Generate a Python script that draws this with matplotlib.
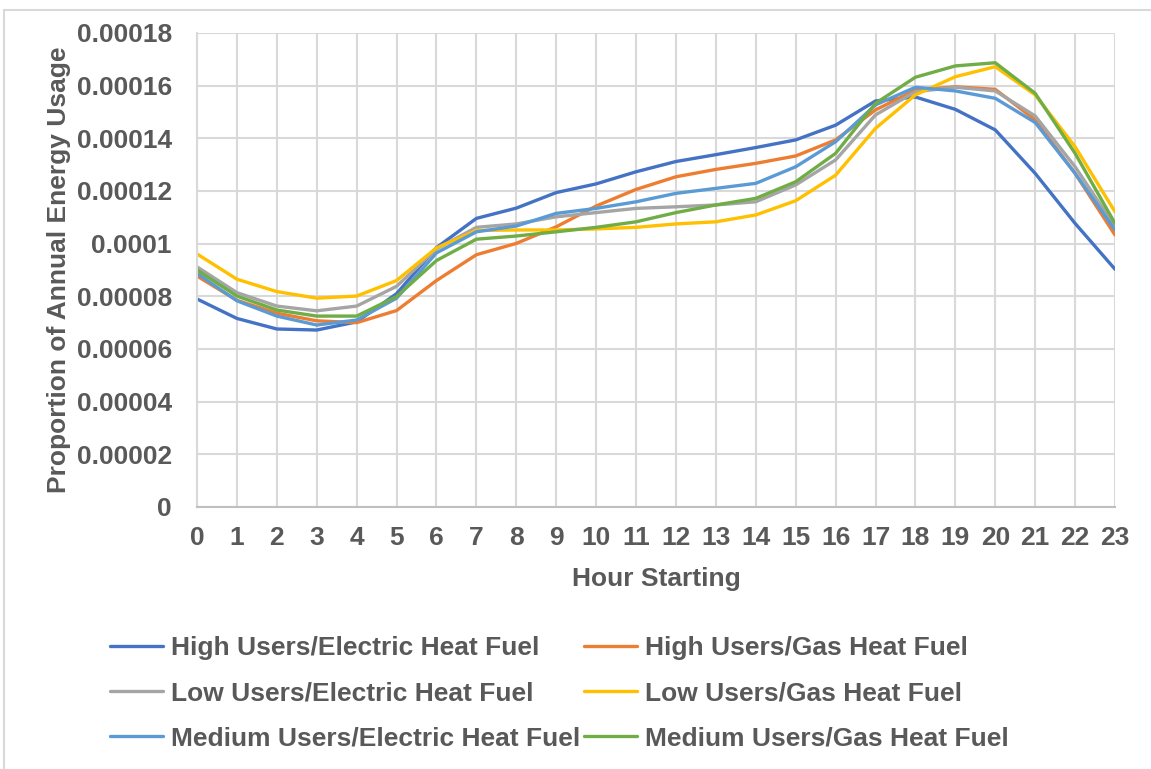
import numpy as np
import matplotlib.pyplot as plt
from matplotlib.patches import Rectangle

plt.rcParams['font.family'] = ['Liberation Sans', 'DejaVu Sans']

hours = list(range(24))

high_electric = [0.0000790, 0.0000716, 0.0000676, 0.0000672, 0.0000703, 0.0000810,
                 0.0000985, 0.0001096, 0.0001135, 0.0001194, 0.0001227, 0.0001273,
                 0.0001312, 0.0001338, 0.0001365, 0.0001394, 0.0001450, 0.0001542,
                 0.0001557, 0.0001510, 0.0001432, 0.0001267, 0.0001077, 0.0000903]
high_gas = [0.0000877, 0.0000785, 0.0000736, 0.0000707, 0.0000700, 0.0000746,
            0.0000860, 0.0000958, 0.0001001, 0.0001064, 0.0001143, 0.0001206,
            0.0001254, 0.0001282, 0.0001305, 0.0001333, 0.0001394, 0.0001508,
            0.0001583, 0.0001596, 0.0001586, 0.0001470, 0.0001267, 0.0001033]
low_electric = [0.0000912, 0.0000814, 0.0000763, 0.0000745, 0.0000763, 0.0000838,
                0.0000980, 0.0001062, 0.0001075, 0.0001102, 0.0001118, 0.0001134,
                0.0001140, 0.0001147, 0.0001159, 0.0001223, 0.0001318, 0.0001489,
                0.0001577, 0.0001594, 0.0001580, 0.0001485, 0.0001292, 0.0001065]
low_gas = [0.0000961, 0.0000865, 0.0000818, 0.0000793, 0.0000801, 0.0000860,
           0.0000984, 0.0001050, 0.0001052, 0.0001052, 0.0001056, 0.0001062,
           0.0001075, 0.0001083, 0.0001109, 0.0001163, 0.0001260, 0.0001438,
           0.0001565, 0.0001634, 0.0001672, 0.0001565, 0.0001368, 0.0001121]
medium_electric = [0.0000887, 0.0000783, 0.0000725, 0.0000691, 0.0000710, 0.0000793,
                   0.0000965, 0.0001045, 0.0001067, 0.0001115, 0.0001134, 0.0001159,
                   0.0001191, 0.0001210, 0.0001229, 0.0001292, 0.0001387, 0.0001527,
                   0.0001594, 0.0001580, 0.0001552, 0.0001460, 0.0001267, 0.0001052]
medium_gas = [0.0000900, 0.0000801, 0.0000748, 0.0000725, 0.0000725, 0.0000799,
              0.0000936, 0.0001017, 0.0001029, 0.0001045, 0.0001062, 0.0001083,
              0.0001118, 0.0001147, 0.0001172, 0.0001235, 0.0001343, 0.0001533,
              0.0001632, 0.0001675, 0.0001687, 0.0001571, 0.0001343, 0.0001077]

series = [
    ("High Users/Electric Heat Fuel", high_electric, "#4472C4"),
    ("High Users/Gas Heat Fuel", high_gas, "#ED7D31"),
    ("Low Users/Electric Heat Fuel", low_electric, "#A5A5A5"),
    ("Low Users/Gas Heat Fuel", low_gas, "#FFC000"),
    ("Medium Users/Electric Heat Fuel", medium_electric, "#5B9BD5"),
    ("Medium Users/Gas Heat Fuel", medium_gas, "#70AD47"),
]

y_ticks = [0, 0.00002, 0.00004, 0.00006, 0.00008, 0.0001, 0.00012, 0.00014, 0.00016, 0.00018]
y_labels = ["0", "0.00002", "0.00004", "0.00006", "0.00008", "0.0001",
            "0.00012", "0.00014", "0.00016", "0.00018"]

text_color = "#595959"
grid_color = "#D9D9D9"
fs = 19

fig = plt.figure(figsize=(11.51, 7.69), dpi=100)
fig.patches.append(Rectangle((4 / 1151, -0.01), 1.1, 1 - 10 / 769 + 0.01,
                             transform=fig.transFigure, fill=False,
                             edgecolor="#D9D9D9", linewidth=1.5))

ax = fig.add_axes([197 / 1151, 1 - 507 / 769, (1115 - 197) / 1151, (507 - 33) / 769])

lines = []
for name, vals, color in series:
    ln, = ax.plot(hours, vals, color=color, linewidth=2.4, label=name, solid_capstyle='round')
    lines.append(ln)

ax.set_xlim(0, 23)
ax.set_ylim(0, 0.00018)
ax.set_xticks(hours)
ax.set_xticklabels([str(h) for h in hours])
ax.set_yticks(y_ticks)
ax.set_yticklabels(y_labels)
ax.grid(True, color=grid_color, linewidth=1.5)
ax.set_axisbelow(True)

for side in ["top", "right"]:
    ax.spines[side].set_visible(False)
ax.spines["left"].set_color(grid_color)
ax.spines["left"].set_linewidth(1.5)
ax.spines["bottom"].set_color("#BFBFBF")
ax.spines["bottom"].set_linewidth(1.5)

ax.tick_params(axis='both', length=0, labelsize=fs, labelcolor=text_color)
ax.tick_params(axis='x', pad=14)
ax.tick_params(axis='y', pad=18)
for lbl in ax.get_xticklabels() + ax.get_yticklabels():
    lbl.set_fontweight('bold')

ax.set_xlabel("Hour Starting", fontsize=fs, fontweight='bold', color=text_color, labelpad=12)
ax.set_ylabel("Proportion of Annual Energy Usage", fontsize=fs, fontweight='bold',
              color=text_color, labelpad=4)

# matplotlib fills legend columns first, so reorder to read row by row
order = [0, 2, 4, 1, 3, 5]
leg = fig.legend([lines[i] for i in order], [series[i][0] for i in order],
                 loc='upper left', bbox_to_anchor=(110 / 1151, 1 - 636 / 769), ncol=2,
                 frameon=False, fontsize=fs, handlelength=2.0, handletextpad=0.3,
                 columnspacing=0.15, labelspacing=0.8, borderpad=0, borderaxespad=0)
for t in leg.get_texts():
    t.set_color(text_color)
    t.set_fontweight('bold')

fig.savefig("out.png", dpi=100)
